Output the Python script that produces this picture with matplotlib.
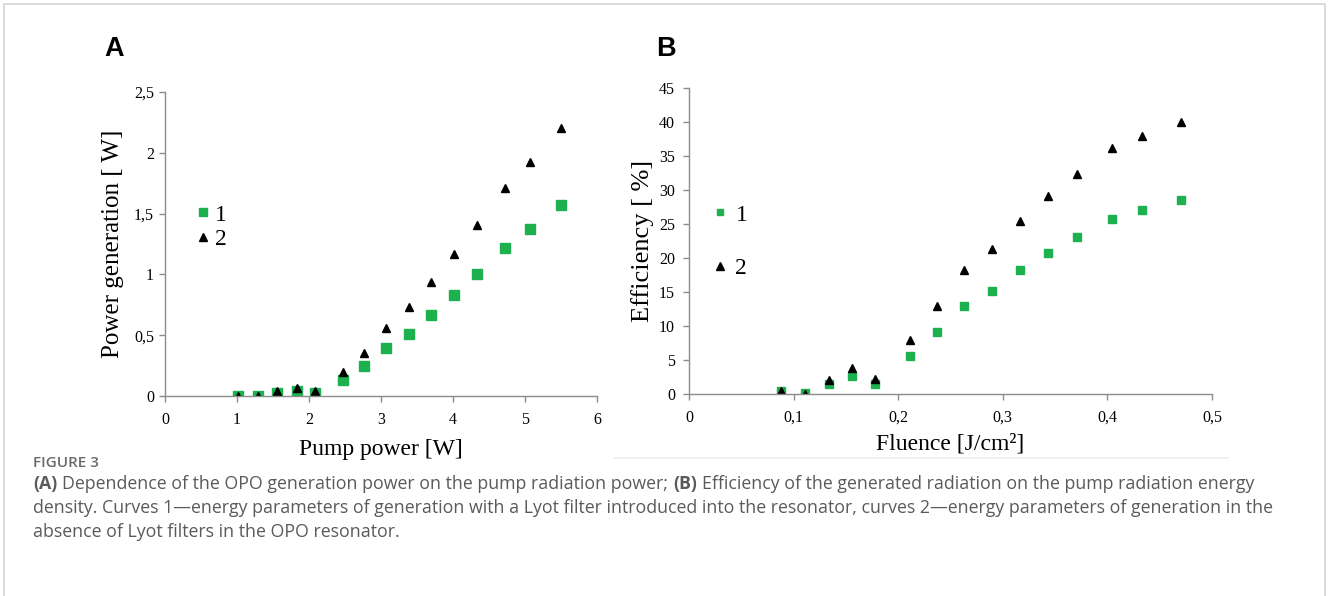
import matplotlib
matplotlib.use("Agg")
import matplotlib.pyplot as plt
from matplotlib.patches import Rectangle
from matplotlib.lines import Line2D

plt.rcParams["font.family"] = ["Liberation Serif", "DejaVu Serif"]

GREEN = "#1db04f"
SPINE = "#8c8c8c"

# panel A: OPO generation power vs pump power
pump_power = [1.01, 1.29, 1.56, 1.83, 2.08, 2.47, 2.77, 3.07, 3.39, 3.69, 4.02, 4.34, 4.72, 5.07, 5.50]
gen_lyot = [0.005, 0.0, 0.03, 0.047, 0.03, 0.137, 0.25, 0.394, 0.514, 0.665, 0.832, 1.0, 1.22, 1.37, 1.567]
gen_free = [0.005, 0.005, 0.04, 0.07, 0.045, 0.197, 0.355, 0.558, 0.73, 0.935, 1.168, 1.406, 1.71, 1.923, 2.2]
a_yticks = [0, 0.5, 1, 1.5, 2, 2.5]
a_yticklabels = ["0", "0,5", "1", "1,5", "2", "2,5"]
a_xticks = [0, 1, 2, 3, 4, 5, 6]

# panel B: efficiency vs fluence
fluence = [0.0875, 0.1105, 0.134, 0.156, 0.178, 0.211, 0.237, 0.263, 0.290, 0.316, 0.343, 0.371, 0.404, 0.433, 0.470]
eff_lyot = [0.54, 0.15, 1.47, 2.74, 1.57, 5.63, 9.2, 12.97, 15.2, 18.2, 20.75, 23.15, 25.8, 27.1, 28.57]
eff_free = [0.54, 0.05, 2.1, 3.9, 2.2, 7.9, 12.9, 18.2, 21.3, 25.4, 29.05, 32.4, 36.2, 37.9, 40.0]
b_yticks = [0, 5, 10, 15, 20, 25, 30, 35, 40, 45]
b_xticks = [0, 0.1, 0.2, 0.3, 0.4, 0.5]
b_xticklabels = ["0", "0,1", "0,2", "0,3", "0,4", "0,5"]

series_labels = ["1", "2"]

caption_title = "FIGURE 3"
caption_lines = [
    [("(A)", "bold"), ("Dependence of the OPO generation power on the pump radiation power;", "normal"),
     ("(B)", "bold"), ("Efficiency of the generated radiation on the pump radiation energy", "normal")],
    [("density. Curves 1\u2014energy parameters of generation with a Lyot filter introduced into the resonator, "
      "curves 2\u2014energy parameters of generation in the", "normal")],
    [("absence of Lyot filters in the OPO resonator.", "normal")],
]

W, H = 1328, 596
fig = plt.figure(figsize=(W / 100, H / 100), dpi=100)
fig.patch.set_facecolor("white")


def style_axes(ax):
    for side in ("top", "right"):
        ax.spines[side].set_visible(False)
    for side in ("left", "bottom"):
        ax.spines[side].set_color(SPINE)
        ax.spines[side].set_linewidth(1.0)
    ax.tick_params(direction="out", length=4, width=1.0, color=SPINE, labelsize=11.5)


ax_a = fig.add_axes([165 / W, 1 - 396.3 / H, 432 / W, 304.6 / H])
ax_a.plot(pump_power, gen_lyot, "s", color=GREEN, ms=7, ls="none", label=series_labels[0])
ax_a.plot(pump_power, gen_free, "^", color="black", ms=6, ls="none", label=series_labels[1])
ax_a.set_xlim(0, 6)
ax_a.set_ylim(0, 2.5)
ax_a.set_xticks(a_xticks)
ax_a.set_yticks(a_yticks)
ax_a.set_yticklabels(a_yticklabels)
style_axes(ax_a)
ax_a.tick_params(axis="x", pad=7)
ax_a.tick_params(axis="y", pad=4)
ax_a.set_xlabel("Pump power [W]", fontsize=17, labelpad=8)
ax_a.set_ylabel("Power generation [ W]", fontsize=18, labelpad=7)
ax_a.legend(loc="upper left", bbox_to_anchor=(196 / W, 1 - 204 / H), bbox_transform=fig.transFigure,
            frameon=False, fontsize=17, handlelength=0.6, handletextpad=0.2, labelspacing=0.12,
            borderpad=0, borderaxespad=0, markerscale=0.9)

ax_b = fig.add_axes([689 / W, 1 - 394.3 / H, 523 / W, 306.6 / H])
ax_b.plot(fluence, eff_lyot, "s", color=GREEN, ms=5.5, ls="none", label=series_labels[0])
ax_b.plot(fluence, eff_free, "^", color="black", ms=6, ls="none", label=series_labels[1])
ax_b.set_xlim(0, 0.5)
ax_b.set_ylim(0, 45)
ax_b.set_xticks(b_xticks)
ax_b.set_xticklabels(b_xticklabels)
ax_b.set_yticks(b_yticks)
style_axes(ax_b)
ax_b.tick_params(axis="x", pad=7)
ax_b.tick_params(axis="y", pad=6)
ax_b.set_xlabel("Fluence [J/cm\u00b2]", fontsize=17, labelpad=6)
ax_b.set_ylabel("Efficiency [ %]", fontsize=19, labelpad=4)
ax_b.legend(loc="upper left", bbox_to_anchor=(713 / W, 1 - 204 / H), bbox_transform=fig.transFigure,
            frameon=False, fontsize=17, handlelength=0.6, handletextpad=0.35, labelspacing=1.35,
            borderpad=0, borderaxespad=0, markerscale=0.9)

# panel letters
fig.text(104 / W, 1 - 49 / H, "A", fontsize=19.5, weight="bold", family="Liberation Sans", va="center")
fig.text(656 / W, 1 - 49 / H, "B", fontsize=19.5, weight="bold", family="Liberation Sans", va="center")

# outer frame and faint rule under panel B
fig.add_artist(Rectangle((4 / W, -0.02), 1321 / W, 1 - 4 / H + 0.02, transform=fig.transFigure,
                         fill=False, edgecolor="#d4d4d4", linewidth=1.2))
fig.add_artist(Line2D([615 / W, 1228 / W], [1 - 458 / H] * 2, transform=fig.transFigure,
                      color="#ececec", linewidth=1.2))

# caption
cap_font = dict(family=["Open Sans", "DejaVu Sans"], fontsize=12.8, color="#5a5a5a")
fig.text(33 / W, 1 - 467 / H, caption_title, weight="semibold", va="baseline",
         **dict(cap_font, fontsize=11, color="#6a6a6a"))
renderer = fig.canvas.get_renderer()
gap = 0.27 * cap_font["fontsize"] * 100 / 72
for i, pieces in enumerate(caption_lines):
    x = 33
    y = 1 - (489 + 24 * i) / H
    for text, weight in pieces:
        t = fig.text(x / W, y, text, weight=weight, va="baseline", **cap_font)
        x = t.get_window_extent(renderer).x1 + gap

fig.savefig("out.png", dpi=100)
